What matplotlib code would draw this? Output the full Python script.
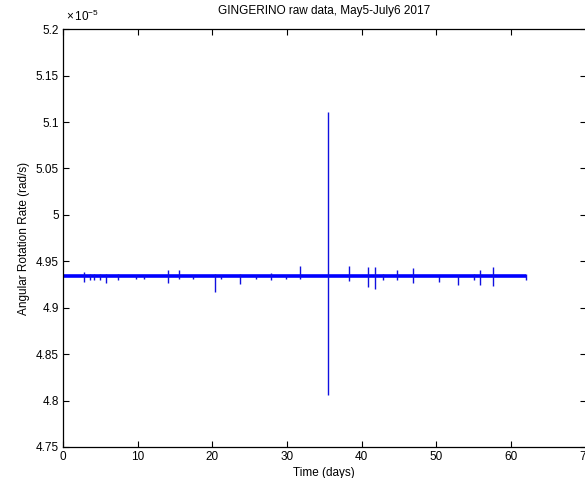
import matplotlib
matplotlib.use("Agg")
import matplotlib.pyplot as plt
import matplotlib.ticker as mticker

plt.rcParams["font.family"] = ["Liberation Sans", "DejaVu Sans"]
plt.rcParams["mathtext.fontset"] = "custom"
plt.rcParams["mathtext.rm"] = "Liberation Sans"
plt.rcParams["mathtext.it"] = "Liberation Sans:italic"

# ---- Data (rad/s in units of 1e-5) ----
SCALE = 1e-5
base_t = [0.0, 62.0]
base_val = [4.934, 4.934]

spike_t = [2.8, 3.6, 4.2, 5.0, 5.8, 7.4, 9.8, 10.9, 14.1, 15.6, 17.4, 20.3,
           21.2, 23.7, 25.9, 27.9, 29.9, 31.7, 35.5, 38.3, 40.9, 41.8, 42.9,
           44.8, 46.9, 50.4, 52.9, 55.0, 55.8, 57.6, 62.0]
spike_hi = [4.938, 4.936, 4.936, 4.936, 4.936, 4.936, 4.935, 4.935, 4.941,
            4.941, 4.935, 4.936, 4.935, 4.936, 4.935, 4.937, 4.935, 4.945,
            5.111, 4.945, 4.944, 4.944, 4.936, 4.941, 4.943, 4.934, 4.935,
            4.936, 4.941, 4.944, 4.936]
spike_lo = [4.928, 4.930, 4.930, 4.930, 4.927, 4.930, 4.931, 4.931, 4.927,
            4.931, 4.931, 4.917, 4.931, 4.926, 4.931, 4.930, 4.931, 4.931,
            4.806, 4.929, 4.922, 4.920, 4.930, 4.930, 4.927, 4.928, 4.925,
            4.930, 4.924, 4.923, 4.930]

x_ticks = [0, 10, 20, 30, 40, 50, 60, 70]
y_ticks = [4.75, 4.8, 4.85, 4.9, 4.95, 5.0, 5.05, 5.1, 5.15, 5.2]

# ---- Chart ----
fig = plt.figure(figsize=(5.85, 4.78), dpi=100)
ax = fig.add_axes([0.1077, 0.0649, 0.8934, 0.874])

ax.plot(base_t, [v * SCALE for v in base_val], color="#0000ff",
        linewidth=2.6, solid_capstyle="butt")
ax.vlines(spike_t, [v * SCALE for v in spike_lo], [v * SCALE for v in spike_hi],
          color="#1010e0", linewidth=1.0)

ax.set_xlim(0, 70)
ax.set_ylim(4.75 * SCALE, 5.2 * SCALE)
ax.set_xticks(x_ticks)
ax.set_yticks([v * SCALE for v in y_ticks])
ax.xaxis.set_major_formatter(mticker.FuncFormatter(lambda x, _: f"{x:g}"))
ax.yaxis.set_major_formatter(
    mticker.FuncFormatter(lambda y, _: f"{round(y / SCALE, 3):g}"))

ax.tick_params(direction="in", length=4, width=0.8, top=True, right=True,
               labelsize=8.5, pad=3, colors="black")
for spine in ax.spines.values():
    spine.set_linewidth(0.9)

ax.text(0.006, 1.012, r"$\times\,10^{-5}$", transform=ax.transAxes,
        fontsize=8.5, ha="left", va="bottom")

ax.set_title("GINGERINO raw data, May5-July6 2017", fontsize=8.5, pad=11)
ax.set_xlabel("Time (days)", fontsize=8.5, labelpad=3)
ax.set_ylabel("Angular Rotation Rate (rad/s)", fontsize=8.5, labelpad=4)

fig.savefig("out.png", dpi=100, facecolor="white")
